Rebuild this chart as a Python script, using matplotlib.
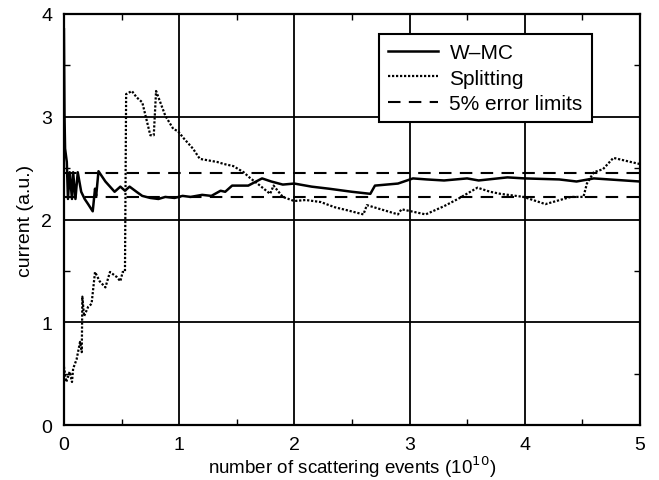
import matplotlib
matplotlib.use("Agg")
import matplotlib.pyplot as plt
from matplotlib.ticker import MultipleLocator

plt.rcParams['font.family'] = ['Liberation Sans', 'DejaVu Sans']

wmc_x = [0.0, 0.005, 0.01, 0.025, 0.035, 0.05, 0.07, 0.08, 0.10, 0.12, 0.15, 0.18, 0.21,
         0.25, 0.27, 0.28, 0.30, 0.36, 0.44, 0.49, 0.53, 0.57, 0.63, 0.68, 0.75, 0.82,
         0.88, 0.96, 1.03, 1.1, 1.2, 1.28, 1.36, 1.40, 1.46, 1.6, 1.72, 1.8, 1.9, 2.0,
         2.15, 2.3, 2.5, 2.66, 2.7, 2.9, 3.03, 3.15, 3.3, 3.5, 3.6, 3.85, 4.0, 4.3,
         4.45, 4.6, 5.0]
wmc_y = [3.85, 3.0, 2.69, 2.56, 2.2, 2.46, 2.2, 2.46, 2.2, 2.46, 2.27, 2.2, 2.15,
         2.08, 2.3, 2.23, 2.47, 2.37, 2.27, 2.32, 2.28, 2.32, 2.27, 2.23, 2.21, 2.2,
         2.22, 2.21, 2.23, 2.22, 2.24, 2.23, 2.28, 2.27, 2.33, 2.33, 2.40, 2.37, 2.34, 2.35,
         2.32, 2.3, 2.27, 2.25, 2.33, 2.35, 2.40, 2.39, 2.38, 2.40, 2.38, 2.41, 2.40, 2.39,
         2.37, 2.40, 2.37]

split_x = [0.0, 0.02, 0.05, 0.07, 0.08, 0.11, 0.14, 0.155, 0.16, 0.175, 0.21, 0.24,
           0.27, 0.31, 0.36, 0.40, 0.46, 0.49, 0.51, 0.53, 0.54, 0.59, 0.63, 0.68,
           0.75, 0.78, 0.80, 0.88, 0.95, 0.99, 1.04, 1.12, 1.18, 1.33, 1.39, 1.47,
           1.56, 1.62, 1.68, 1.79, 1.82, 1.9, 2.0, 2.1, 2.23, 2.35, 2.46, 2.6, 2.63,
           2.75, 2.9, 2.93, 3.14, 3.3, 3.42, 3.59, 3.7, 3.79, 3.99, 4.18, 4.4, 4.51,
           4.54, 4.6, 4.68, 4.77, 4.92, 5.0]
split_y = [0.57, 0.42, 0.52, 0.42, 0.55, 0.64, 0.81, 0.71, 1.25, 1.06, 1.15, 1.18,
           1.49, 1.40, 1.34, 1.49, 1.44, 1.40, 1.49, 1.49, 3.22, 3.25, 3.19, 3.14,
           2.82, 2.82, 3.25, 3.01, 2.88, 2.86, 2.79, 2.69, 2.59, 2.56, 2.54, 2.52,
           2.46, 2.40, 2.35, 2.25, 2.33, 2.22, 2.18, 2.19, 2.17, 2.12, 2.09, 2.05, 2.14,
           2.10, 2.05, 2.1, 2.05, 2.13, 2.2, 2.31, 2.27, 2.25, 2.22, 2.15, 2.22, 2.22,
           2.35, 2.46, 2.49, 2.6, 2.56, 2.54]

err_upper = 2.45
err_lower = 2.22

fig = plt.figure(figsize=(6.59, 4.81), dpi=100)
ax = fig.add_axes([0.097, 0.114, 0.874, 0.855])

ax.plot(wmc_x, wmc_y, color='black', lw=1.8, label='W\u2013MC')
ax.plot(split_x, split_y, color='black', lw=1.6, linestyle=(0, (1, 0.8)), label='Splitting')
ax.plot([0, 5], [err_upper, err_upper], color='black', lw=1.5, linestyle=(0, (6, 4)),
        label='5% error limits')
ax.plot([0, 5], [err_lower, err_lower], color='black', lw=1.5, linestyle=(0, (6, 4)))

ax.set_xlim(0, 5)
ax.set_ylim(0, 4)
ax.xaxis.set_major_locator(MultipleLocator(1))
ax.yaxis.set_major_locator(MultipleLocator(1))
ax.xaxis.set_minor_locator(MultipleLocator(0.5))
ax.yaxis.set_minor_locator(MultipleLocator(0.5))
ax.grid(True, which='major', color='black', lw=1.3)
ax.tick_params(which='both', direction='in', top=True, right=True, labelsize=14)
ax.tick_params(axis='x', which='major', pad=8)
ax.tick_params(axis='y', which='major', pad=8.5)
ax.tick_params(which='major', length=0)
ax.tick_params(which='minor', length=4, width=1)
for s in ax.spines.values():
    s.set_linewidth(1.6)

ax.set_xlabel('number of scattering events (10$^{10}$)', fontsize=13.5, labelpad=0)
ax.set_ylabel('current (a.u.)', fontsize=14, labelpad=5)

leg = ax.legend(loc='upper right', bbox_to_anchor=(0.917, 0.951), fontsize=15,
                frameon=True, fancybox=False, edgecolor='black', framealpha=1,
                handlelength=2.4, handletextpad=0.55, borderpad=0.45, labelspacing=0.3,
                borderaxespad=0)
leg.get_frame().set_linewidth(1.5)

fig.savefig('out.png', dpi=100)
